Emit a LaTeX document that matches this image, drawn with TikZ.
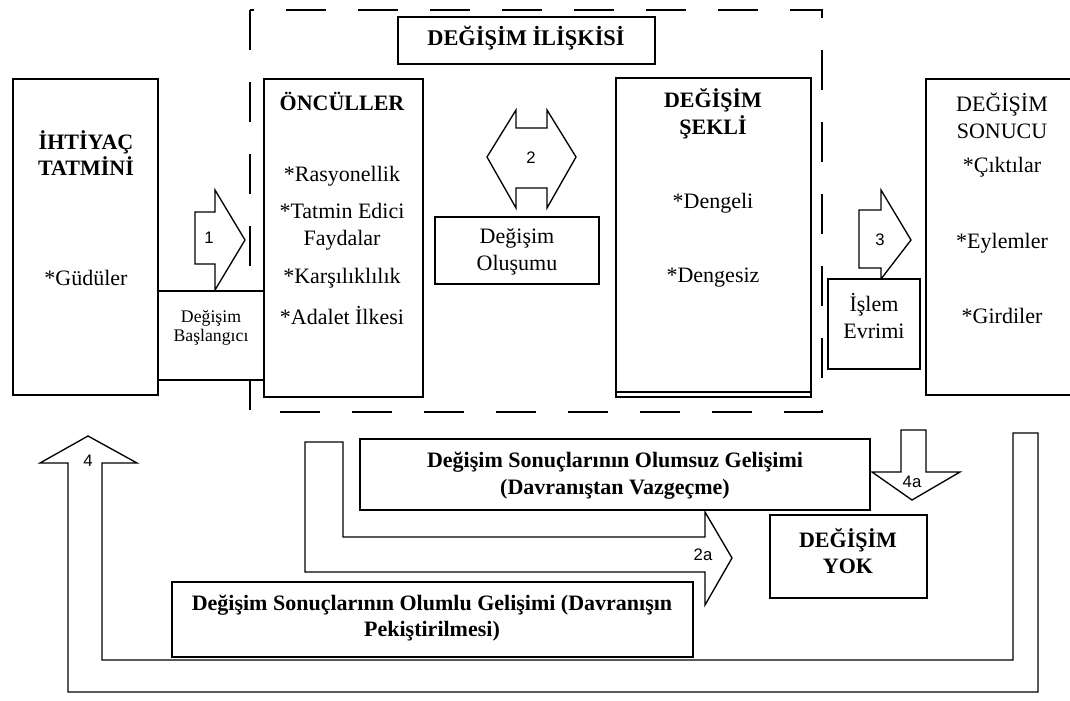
\documentclass[tikz,border=0pt]{standalone}
\usepackage{fontspec}
\setmainfont{Liberation Serif}
\newfontfamily\numfont{Liberation Sans}
\usetikzlibrary{fit}
\begin{document}
\begin{tikzpicture}[x=0.75pt,y=-0.75pt,
  box/.style={draw,line width=1.2pt,fill=white,inner sep=0pt},
  txt/.style={inner sep=0pt,align=center,font=\fontsize{16.5}{20}\selectfont},
  btxt/.style={inner sep=0pt,align=center,font=\fontsize{16.5}{20}\selectfont\bfseries},
  smalltxt/.style={inner sep=0pt,align=center,font=\fontsize{13.3}{14.5}\selectfont},
  num/.style={inner sep=0pt,font=\numfont\fontsize{12.5}{14}\selectfont},
  blockarrow/.style={draw,line width=1pt,fill=white,line join=miter},
  frame/.style={draw,line width=1.2pt,dash pattern=on 30pt off 24pt},
]
\useasboundingbox (0,0) rectangle (1070,700);
\fill[white] (0,0) rectangle (1070,700);

% dashed exchange relation frame
\draw[frame] (250,10) rectangle (822,412);

% block arrows
\draw[blockarrow] (195,212) -- (215,212) -- (215,190) -- (245,240) -- (215,290) -- (215,264) -- (195,264) -- cycle;
\draw[blockarrow] (487,157) -- (516,110) -- (516,128) -- (547,128) -- (547,110) -- (576,157) -- (547,208) -- (547,188) -- (516,188) -- (516,208) -- cycle;
\draw[blockarrow] (859,210) -- (881,210) -- (881,190) -- (911,240) -- (881,279) -- (881,268) -- (859,268) -- cycle;
\draw[blockarrow] (1013,433) -- (1038,433) -- (1038,692) -- (68,692) -- (68,463) -- (40,463) -- (88,436) -- (137,463) -- (102,463) -- (102,660) -- (1013,660) -- cycle;
\draw[blockarrow] (305,442) -- (343,442) -- (343,537) -- (705,537) -- (705,512) -- (732,558) -- (705,605) -- (705,572) -- (305,572) -- cycle;
\draw[blockarrow] (901,430) -- (926,430) -- (926,472) -- (960,472) -- (912,500) -- (872,472) -- (901,472) -- cycle;

% boxes
\node[box,fit={(13,79) (158,395)}] (iht) {};
\node[box,fit={(158,291) (264,380)}] (bas) {};
\node[box,fit={(264,79) (423,397)}] (onc) {};
\node[box,fit={(398,17) (655,64)}] (ilis) {};
\node[box,fit={(435,217) (599,284)}] (olus) {};
\node[box,fit={(616,78) (811,397)}] (sek) {};
\draw[line width=0.8pt] (616,392) -- (811,392);
\node[box,fit={(828,279) (920,369)}] (evr) {};
\node[box,fit={(926,79) (1080,395)}] (son) {};
\node[box,fit={(360,439) (870,510)}] (olumsuz) {};
\node[box,fit={(770,515) (927,598)}] (yok) {};
\node[box,fit={(172,582) (693,657)}] (olumlu) {};

% arrow labels
\node[num] (n1) at (209,238) {1};
\node[num] (n2) at (531,158) {2};
\node[num] (n3) at (880,240) {3};
\node[num] (n4) at (88,461) {4};
\node[num] (n2a) at (703,555) {2a};
\node[num] (n4a) at (912,482) {4a};

% texts
\node[btxt] (t1) at (86,153) {İHTİYAÇ\\TATMİNİ};
\node[txt] (t2) at (86,278) {*Güdüler};
\node[smalltxt] (t3) at (211,328) {Değişim\\Başlangıcı};
\node[btxt] (t4) at (342,101) {ÖNCÜLLER};
\node[txt] (t5) at (342,176) {*Rasyonellik};
\node[txt] (t6) at (342,227) {*Tatmin Edici\\Faydalar};
\node[txt] (t7) at (342,278) {*Karşılıklılık};
\node[txt] (t8) at (342,316) {*Adalet İlkesi};
\node[btxt,font=\fontsize{16.8}{18}\selectfont\bfseries] (t9) at (526,38) {DEĞİŞİM İLİŞKİSİ};
\node[txt] (t10) at (517,252) {Değişim\\Oluşumu};
\node[btxt] (t11) at (713,114) {DEĞİŞİM\\ŞEKLİ};
\node[txt] (t12) at (713,203) {*Dengeli};
\node[txt] (t13) at (713,278) {*Dengesiz};
\node[txt] (t14) at (874,316) {İşlem\\Evrimi};
\node[txt] (t15) at (1002,116) {DEĞİŞİM\\SONUCU};
\node[txt] (t16) at (1002,167) {*Çıktılar};
\node[txt] (t17) at (1002,243) {*Eylemler};
\node[txt] (t18) at (1002,316) {*Girdiler};
\node[btxt] (t19) at (615,476) {Değişim Sonuçlarının Olumsuz Gelişimi\\(Davranıştan Vazgeçme)};
\node[btxt] (t20) at (848,551) {DEĞİŞİM\\YOK};
\node[btxt] (t21) at (432,618) {Değişim Sonuçlarının Olumlu Gelişimi (Davranışın\\Pekiştirilmesi)};
\end{tikzpicture}
\end{document}
